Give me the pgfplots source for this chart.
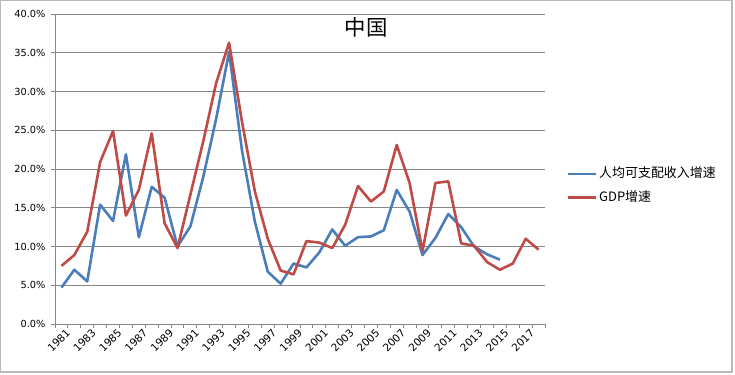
\documentclass[border=0pt]{standalone}
\usepackage{fontspec}
\setmainfont{DejaVu Sans}
\newfontfamily\cjk{Noto Sans CJK SC}
\usepackage{pgfplots}
\pgfplotsset{compat=1.18}
\definecolor{incblue}{HTML}{4A7EBB}
\definecolor{gdpred}{HTML}{BE4B48}
\definecolor{gridgray}{HTML}{868686}
\begin{document}
\begin{tikzpicture}[x=1bp,y=1bp]
\path[use as bounding box] (0,0) rectangle (735,374);
\fill[white] (0,0) rectangle (735,374);
\draw[gray!55, line width=1.2bp] (0.6,2) rectangle (732,373.4);
\begin{axis}[
  at={(55bp,50bp)}, anchor=south west,
  scale only axis, width=490bp, height=310bp,
  xmin=1980.5, xmax=2018.5, ymin=0, ymax=40,
  axis lines*=left,
  axis line style={gridgray, line width=0.9bp},
  ytick={0,5,...,40},
  yticklabel={\pgfmathprintnumber[fixed,fixed zerofill,precision=1]{\tick}\%},
  ymajorgrids,
  grid style={gridgray, line width=0.9bp},
  tick style={gridgray, line width=0.9bp},
  tick align=outside,
  major tick length=4bp,
  xtick={1980.5,1981.5,...,2018.5},
  xticklabels={},
  extra x ticks={1981,1983,...,2017},
  extra x tick labels={1981,1983,1985,1987,1989,1991,1993,1995,1997,1999,2001,2003,2005,2007,2009,2011,2013,2015,2017},
  extra x tick style={major tick length=0pt, xticklabel style={rotate=45, anchor=north east, inner sep=0.5bp, yshift=-5bp, xshift=0.5bp, font=\fontsize{10.5}{12}\selectfont}},
  tick label style={font=\fontsize{9.8}{12}\selectfont, /pgf/number format/assume math mode=true},
  yticklabel style={xshift=-2bp},
  clip=false,
]
\addplot[incblue, line width=2.6bp, line join=round, no markers] coordinates {
(1981,4.7) (1982,7.0) (1983,5.5) (1984,15.4) (1985,13.3) (1986,21.9) (1987,11.2) (1988,17.7) (1989,16.3) (1990,10.0)
(1991,12.6) (1992,19.0) (1993,26.5) (1994,35.1) (1995,22.4) (1996,13.2) (1997,6.75) (1998,5.2) (1999,7.8) (2000,7.3)
(2001,9.25) (2002,12.2) (2003,10.1) (2004,11.2) (2005,11.3) (2006,12.1) (2007,17.3) (2008,14.5) (2009,8.9) (2010,11.1)
(2011,14.2) (2012,12.5) (2013,10.0) (2014,9.0) (2015,8.3)
};
\addplot[gdpred, line width=2.6bp, line join=round, no markers] coordinates {
(1981,7.5) (1982,8.9) (1983,11.9) (1984,20.9) (1985,24.9) (1986,14.0) (1987,17.3) (1988,24.6) (1989,13.0) (1990,9.8)
(1991,16.7) (1992,23.6) (1993,31.1) (1994,36.3) (1995,26.1) (1996,17.1) (1997,11.0) (1998,6.9) (1999,6.4) (2000,10.7)
(2001,10.5) (2002,9.8) (2003,12.8) (2004,17.8) (2005,15.8) (2006,17.1) (2007,23.1) (2008,18.2) (2009,9.4) (2010,18.2)
(2011,18.4) (2012,10.4) (2013,10.1) (2014,8.0) (2015,7.0) (2016,7.8) (2017,11.0) (2018,9.6)
};
\end{axis}
\node[font=\cjk\fontsize{21.5}{24}\selectfont] at (366,347) {中国};
\draw[incblue, line width=2.6bp] (568,200) -- (596,200);
\node[anchor=west, inner sep=1bp, font=\cjk\fontsize{13}{15}\selectfont] at (598,201) {人均可支配收入增速};
\draw[gdpred, line width=2.6bp] (568,176.3) -- (596,176.3);
\node[anchor=west, inner sep=1bp, font=\cjk\fontsize{13}{15}\selectfont] at (598,177) {GDP增速};
\end{tikzpicture}
\end{document}
